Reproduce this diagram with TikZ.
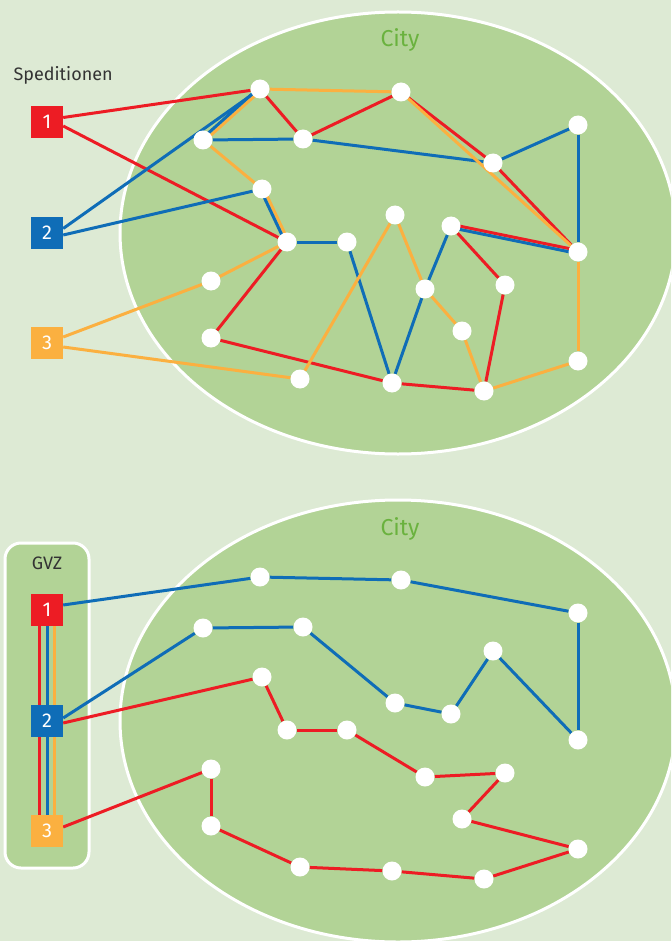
\documentclass[tikz,border=0pt]{standalone}
\usepackage{fontspec}
\setmainfont{Fira Sans}
\usetikzlibrary{calc}
\definecolor{bgpale}{HTML}{DDEAD4}
\definecolor{citygreen}{HTML}{B2D396}
\definecolor{citytext}{HTML}{6AB23E}
\definecolor{spred}{HTML}{ED1C24}
\definecolor{spblue}{HTML}{0F6DB7}
\definecolor{sporange}{HTML}{FBB040}
\definecolor{inkgray}{HTML}{333333}
\pgfdeclarelayer{back}
\pgfdeclarelayer{edges}
\pgfsetlayers{back,edges,main}
\tikzset{
  stn/.style={circle, fill=white, inner sep=0pt, minimum size=19pt},
  depot/.style={rectangle, minimum size=32pt, inner sep=0pt, text=white,
                font=\fontsize{20}{20}\selectfont},
  rt1/.style={draw=spred, line width=3pt},
  rt2/.style={draw=spblue, line width=3pt},
  rt3/.style={draw=sporange, line width=3pt},
  city/.style={fill=citygreen, draw=white, line width=3pt},
  lbl/.style={text=inkgray, font=\fontsize{18}{18}\selectfont},
  citylbl/.style={text=citytext, font=\fontsize{23}{23}\selectfont},
}
% positions of the stops (same layout in both halves)
\newcommand\stoplist{a/260/89, b/401/92, c/203/140, d/303/139, e/493/163,
  f/578/125, g/262/189, h/287/242, i/347/242, j/395/215, k/451/226,
  l/578/252, m/211/281, n/425/289, o/505/285, p/462/331, q/211/338,
  r/300/379, s/392/383, t/484/391, u/578/361}
% two routes side by side on one link
\newcommand\twin[4]{%
  \draw[#3] ($(#1)!1.6pt!90:(#2)$) -- ($(#2)!1.6pt!-90:(#1)$);
  \draw[#4] ($(#1)!1.6pt!-90:(#2)$) -- ($(#2)!1.6pt!90:(#1)$);}

\begin{document}
\begin{tikzpicture}[x=1pt, y=-1pt]
  \useasboundingbox (0,0) rectangle (671,941);
  \begin{pgfonlayer}{back}
    \fill[bgpale] (0,0) rectangle (671,941);
    \clip (0,0) rectangle (671,941);
    \draw[city] (398,233) ellipse [x radius=278pt, y radius=221pt];
    \draw[city] (398,721) ellipse [x radius=278pt, y radius=221pt];
    \draw[city, rounded corners=16pt] (5,543) rectangle (89,868);
  \end{pgfonlayer}

  % top: every Spedition drives on its own
  \node[lbl, anchor=base west] (spedlbl) at (10,81) {Speditionen};
  \node[citylbl, anchor=base] (cityup) at (400,47) {City};
  \node[depot, fill=spred] (up1) at (47,122) {1};
  \node[depot, fill=spblue] (up2) at (47,233) {2};
  \node[depot, fill=sporange] (up3) at (47,343) {3};
  \foreach \n/\x/\y in \stoplist
    \node[stn] (up\n) at (\x,\y) {};

  \begin{pgfonlayer}{edges}
    \draw[rt1] ([yshift=4.5pt]up1.east) -- (upa);
    \draw[rt1] ([yshift=-4pt]up1.east) -- (uph);
    \draw[rt2] ([yshift=4.5pt]up2.east) -- (upa);
    \draw[rt2] ([yshift=-2pt]up2.east) -- (upg);
    \draw[rt3] ([yshift=6pt]up3.east) -- (upm);
    \draw[rt3] ([yshift=-4pt]up3.east) -- (upr);
    \foreach \s/\e in {a/d, d/b, b/e, e/l, k/o, o/t, t/s, s/q, q/h}
      \draw[rt1] (up\s) -- (up\e);
    \foreach \s/\e in {c/d, d/e, e/f, f/l, k/n, n/s, s/i, i/h}
      \draw[rt2] (up\s) -- (up\e);
    \foreach \s/\e in {m/h, g/c, a/b, b/l, l/u, u/t, t/p, p/n, n/j, j/r}
      \draw[rt3] (up\s) -- (up\e);
    \twin{upa}{upc}{rt3}{rt2}
    \twin{upg}{uph}{rt3}{rt2}
    \twin{upk}{upl}{rt1}{rt2}
  \end{pgfonlayer}

  % bottom: bundled at the GVZ
  \node[lbl, anchor=base] (gvzlbl) at (47,569) {GVZ};
  \node[citylbl, anchor=base] (citylo) at (400,535) {City};
  \node[depot, fill=spred] (lo1) at (47,610) {1};
  \node[depot, fill=spblue] (lo2) at (47,721) {2};
  \node[depot, fill=sporange] (lo3) at (47,831) {3};
  \begin{scope}[shift={(0,488)}]
    \foreach \n/\x/\y in \stoplist
      \node[stn] (lo\n) at (\x,\y) {};
  \end{scope}

  \begin{pgfonlayer}{edges}
    \foreach \s/\e in {lo1/lo2, lo2/lo3} {
      \draw[rt1] ([xshift=-8pt]\s.south) -- ([xshift=-8pt]\e.north);
      \draw[rt2] (\s.south) -- (\e.north);
      \draw[rt3] ([xshift=7pt]\s.south) -- ([xshift=7pt]\e.north);
    }
    \draw[rt2] ([yshift=5pt]lo1.east) -- (loa);
    \draw[rt2] ([yshift=3pt]lo2.east) -- (loc);
    \draw[rt1] ([yshift=-2pt]lo2.east) -- (log);
    \draw[rt1] ([yshift=4pt]lo3.east) -- (lom);
    \foreach \s/\e in {a/b, b/f, f/l, l/e, e/k, k/j, j/d, d/c}
      \draw[rt2] (lo\s) -- (lo\e);
    \foreach \s/\e in {g/h, h/i, i/n, n/o, o/p, p/u, u/t, t/s, s/r, r/q, q/m}
      \draw[rt1] (lo\s) -- (lo\e);
  \end{pgfonlayer}
\end{tikzpicture}
\end{document}
